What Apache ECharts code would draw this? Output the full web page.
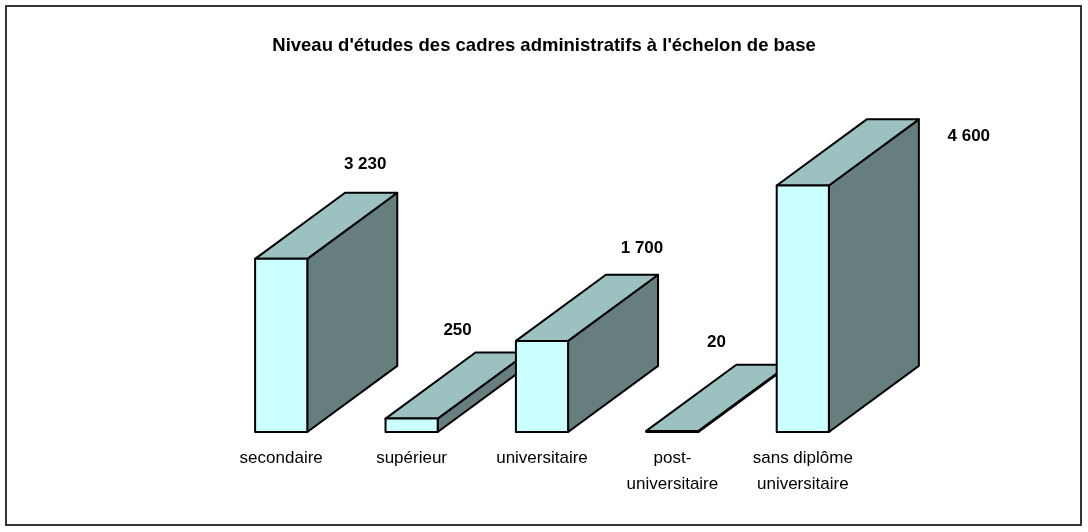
<!DOCTYPE html>
<html>
<head>
<meta charset="utf-8">
<script src="https://cdn.jsdelivr.net/npm/echarts@6/dist/echarts.min.js"></script>
<style>
  html, body { margin: 0; padding: 0; background: #fff; }
  #main { width: 1088px; height: 532px; }
</style>
</head>
<body>
<div id="main"></div>
<script>
var categories = ['secondaire', 'supérieur', 'universitaire', 'post-\nuniversitaire', 'sans diplôme\nuniversitaire'];
var values = [3230, 250, 1700, 20, 4600];

// where each value label sits, relative to the top of the bar's front face
var labelDx = [84, 46, 100, 44, 166];
var labelDy = [-95, -88, -93, -89, -49];

var FONT = "'Liberation Sans Narrow', 'Arial Narrow', 'Liberation Sans', Arial, sans-serif";

function fmt(v) {
  return String(v).replace(/\B(?=(\d{3})+(?!\d))/g, ' ');
}

var chartDom = document.getElementById('main');
var myChart = echarts.init(chartDom);
var option;

function renderBox(params, api) {
  var idx = api.value(0);
  var val = api.value(1);
  var base = api.coord([idx, 0]);
  var top = api.coord([idx, val]);
  var cw = api.size([1, 0])[0];
  var w = cw * 0.4;
  var dx = cw * 0.69;
  var dy = -cw * 0.507;
  var x0 = base[0] - w / 2;
  var x1 = x0 + w;
  var yb = base[1];
  var yt = top[1];
  var line = { stroke: '#000', lineWidth: 2, lineJoin: 'round' };
  return {
    type: 'group',
    children: [
      {
        type: 'polygon',
        shape: { points: [[x1, yt], [x1 + dx, yt + dy], [x1 + dx, yb + dy], [x1, yb]] },
        style: Object.assign({ fill: '#667f7e' }, line)
      },
      {
        type: 'polygon',
        shape: { points: [[x0, yt], [x1, yt], [x1 + dx, yt + dy], [x0 + dx, yt + dy]] },
        style: Object.assign({ fill: '#9bc2c0' }, line)
      },
      {
        type: 'rect',
        shape: { x: x0, y: yt, width: w, height: yb - yt },
        style: Object.assign({ fill: '#ccffff' }, line)
      },
      {
        type: 'text',
        x: base[0] + labelDx[idx],
        y: yt + labelDy[idx],
        style: {
          text: fmt(val),
          fill: '#000',
          font: 'bold 17px ' + FONT,
          align: 'center',
          verticalAlign: 'middle'
        }
      }
    ]
  };
}

option = {
  backgroundColor: '#fff',
  animation: false,
  title: {
    text: "Niveau d'études des cadres administratifs à l'échelon de base",
    left: 'center',
    top: 31,
    textStyle: {
      fontFamily: FONT,
      fontSize: 18.5,
      fontWeight: 'bold',
      color: '#000'
    }
  },
  graphic: [
    {
      type: 'rect',
      shape: { x: 6, y: 6, width: 1075, height: 519 },
      style: { fill: 'none', stroke: '#333', lineWidth: 2 }
    }
  ],
  grid: {
    left: 216,
    width: 652,
    top: 164,
    bottom: 100
  },
  xAxis: {
    type: 'category',
    data: categories,
    axisLine: { show: false },
    axisTick: { show: false },
    splitLine: { show: false },
    axisLabel: {
      margin: 13,
      fontFamily: FONT,
      fontSize: 17,
      lineHeight: 26,
      color: '#000',
      interval: 0
    }
  },
  yAxis: {
    type: 'value',
    min: 0,
    max: 5000,
    show: false
  },
  series: [
    {
      type: 'custom',
      renderItem: renderBox,
      clip: false,
      encode: { x: 0, y: 1 },
      data: values.map(function (v, i) { return [i, v]; })
    }
  ]
};

option && myChart.setOption(option);
</script>
</body>
</html>
